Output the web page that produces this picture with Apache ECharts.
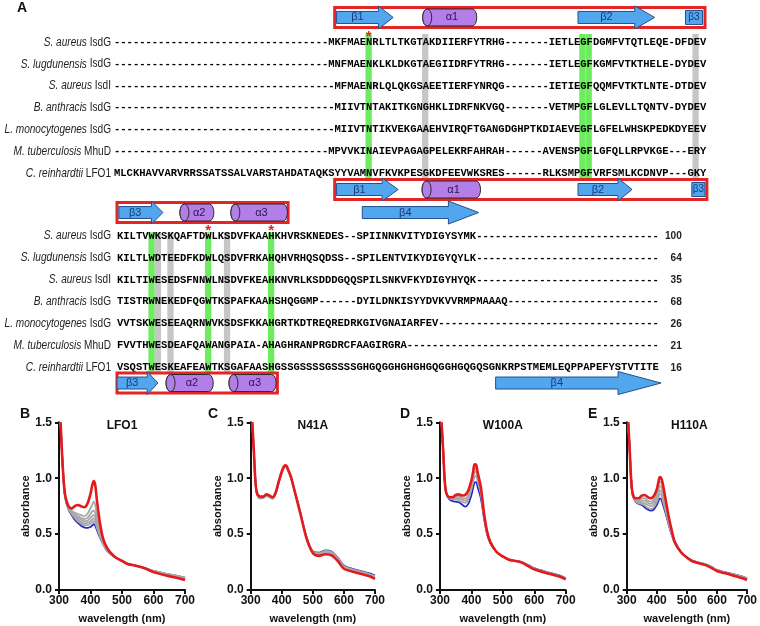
<!DOCTYPE html>
<html>
<head>
<meta charset="utf-8">
<script src="https://cdn.jsdelivr.net/npm/echarts@6/dist/echarts.min.js"></script>
<style>
html, body { margin: 0; padding: 0; background: #fff; }
#container { width: 760px; height: 626px; }
</style>
</head>
<body>
<div id="container"></div>
<script>
// ---- alignment data ----
var speciesNames = ['S. aureus', 'S. lugdunensis', 'S. aureus', 'B. anthracis', 'L. monocytogenes', 'M. tuberculosis', 'C. reinhardtii'];
var proteinNames = ['IsdG', 'IsdG', 'IsdI', 'IsdG', 'IsdG', 'MhuD', 'LFO1'];
var block1Seqs = [
    'MKFMAENRLTLTKGTAKDIIERFYTRHG-------IETLEGFDGMFVTQTLEQE-DFDEV',
    'MNFMAENKLKLDKGTAEGIIDRFYTRHG-------IETLEGFKGMFVTKTHELE-DYDEV',
    'MFMAENRLQLQKGSAEETIERFYNRQG-------IETIEGFQQMFVTKTLNTE-DTDEV',
    'MIIVTNTAKITKGNGHKLIDRFNKVGQ-------VETMPGFLGLEVLLTQNTV-DYDEV',
    'MIIVTNTIKVEKGAAEHVIRQFTGANGDGHPTKDIAEVEGFLGFELWHSKPEDKDYEEV',
    'MPVVKINAIEVPAGAGPELEKRFAHRAH------AVENSPGFLGFQLLRPVKGE---ERY',
    'MLCKHAVVARVRRSSATSSALVARSTAHDATAQKSYYVAMNVFKVKPESGKDFEEVWKSRES------RLKSMPGFVRFSMLKCDNVP---GKY'
];
var block2Seqs = [
    'KILTVWKSKQAFTDWLKSDVFKAAHKHVRSKNEDES--SPIINNKVITYDIGYSYMK',
    'KILTLWDTEEDFKDWLQSDVFRKAHQHVRHQSQDSS--SPILENTVIKYDIGYQYLK',
    'KILTIWESEDSFNNWLNSDVFKEAHKNVRLKSDDDGQQSPILSNKVFKYDIGYHYQK',
    'TISTRWNEKEDFQGWTKSPAFKAAHSHQGGMP------DYILDNKISYYDVKVVRMPMAAAQ',
    'VVTSKWESEEAQRNWVKSDSFKKAHGRTKDTREQREDRKGIVGNAIARFEV',
    'FVVTHWESDEAFQAWANGPAIA-AHAGHRANPRGDRCFAAGIRGRA',
    'VSQSTWESKEAFEAWTKSGAFAASHGSSGSSSSGSSSSGHGQGGHGHGHGQGGHGQGQSGNKRPSTMEMLEQPPAPEFYSTVTITE'
];
var rowTotals = ['100', '64', '35', '68', '26', '21', '16'];

// highlighted alignment columns (1-based)
var block1Green = [41, 75, 76];
var block1Grey = [50, 93];
var block2Green = [6, 15, 25];
var block2Grey = [7, 9, 18];
var block1Stars = [41];
var block2Stars = [15, 25];

// secondary structure: [kind, from column, to column, label]
var ssBlock1Top = [['beta', 35.4, 44.4, 'β1'], ['alpha', 49.1, 57.7, 'α1'], ['beta', 73.8, 86.0, 'β2'], ['box', 90.9, 93.6, 'β3']];
var ssBlock1Bottom = [['beta', 35.4, 45.2, 'β1'], ['alpha', 49.0, 58.3, 'α1'], ['beta', 73.8, 82.4, 'β2'], ['box', 91.9, 94.0, 'β3']];
var ssBlock2Top = [['beta', 0.3, 7.3, 'β3'], ['alpha', 10.0, 15.4, 'α2'], ['alpha', 18.1, 27.1, 'α3'], ['beta', 39.0, 57.5, 'β4']];
var ssBlock2Bottom = [['beta', 0.0, 6.5, 'β3'], ['alpha', 7.8, 15.3, 'α2'], ['alpha', 17.8, 25.3, 'α3'], ['beta', 60.2, 86.5, 'β4']];
var framesBlock1 = [[35.1, 94.0], [35.1, 94.3]];
var framesBlock2 = [[0.0, 27.2], [0.0, 25.5]];

// ---- spectra data ----
var waves = [305, 310, 315, 320, 330, 340, 350, 360, 370, 380, 390, 400, 405, 410, 415, 420, 430, 440, 450, 460, 480, 500, 520, 540, 560, 580, 600, 640, 680, 700];

var lfo1Red   = [1.50, 1.20, 0.97, 0.84, 0.75, 0.73, 0.75, 0.76, 0.75, 0.74, 0.77, 0.86, 0.93, 0.975, 0.94, 0.81, 0.60, 0.46, 0.39, 0.345, 0.29, 0.26, 0.23, 0.22, 0.205, 0.185, 0.16, 0.13, 0.105, 0.09];
var lfo1Blue  = [1.50, 1.20, 0.96, 0.82, 0.72, 0.67, 0.63, 0.60, 0.575, 0.56, 0.555, 0.565, 0.575, 0.59, 0.575, 0.54, 0.47, 0.41, 0.36, 0.33, 0.29, 0.26, 0.235, 0.22, 0.205, 0.19, 0.17, 0.145, 0.125, 0.11];
var lfo1Grey1 = [1.50, 1.20, 0.97, 0.83, 0.74, 0.71, 0.69, 0.68, 0.67, 0.66, 0.68, 0.73, 0.76, 0.79, 0.76, 0.68, 0.55, 0.44, 0.38, 0.34, 0.29, 0.26, 0.23, 0.22, 0.205, 0.185, 0.165, 0.14, 0.115, 0.10];
var lfo1Grey2 = [1.50, 1.20, 0.97, 0.83, 0.735, 0.70, 0.675, 0.66, 0.645, 0.635, 0.645, 0.68, 0.70, 0.71, 0.69, 0.63, 0.52, 0.43, 0.375, 0.335, 0.29, 0.26, 0.232, 0.22, 0.205, 0.187, 0.167, 0.142, 0.118, 0.102];
var lfo1Grey3 = [1.50, 1.20, 0.97, 0.83, 0.73, 0.695, 0.665, 0.645, 0.63, 0.615, 0.62, 0.645, 0.66, 0.67, 0.655, 0.60, 0.50, 0.42, 0.37, 0.333, 0.29, 0.26, 0.233, 0.22, 0.205, 0.188, 0.168, 0.143, 0.12, 0.104];
var lfo1Grey4 = [1.50, 1.20, 0.97, 0.83, 0.73, 0.69, 0.655, 0.63, 0.61, 0.595, 0.60, 0.615, 0.63, 0.64, 0.625, 0.58, 0.49, 0.415, 0.365, 0.33, 0.29, 0.26, 0.234, 0.22, 0.205, 0.189, 0.169, 0.144, 0.122, 0.106];
var lfo1Grey5 = [1.50, 1.20, 0.96, 0.825, 0.725, 0.68, 0.645, 0.615, 0.595, 0.58, 0.58, 0.595, 0.605, 0.615, 0.60, 0.56, 0.48, 0.41, 0.36, 0.33, 0.29, 0.26, 0.235, 0.22, 0.205, 0.19, 0.17, 0.145, 0.124, 0.108];

var n41aRed   = [1.50, 1.25, 0.98, 0.87, 0.835, 0.835, 0.855, 0.845, 0.83, 0.87, 0.97, 1.06, 1.095, 1.115, 1.11, 1.08, 1.01, 0.90, 0.79, 0.68, 0.46, 0.33, 0.305, 0.32, 0.31, 0.26, 0.19, 0.155, 0.125, 0.10];
var n41aBlue  = [1.50, 1.25, 0.98, 0.86, 0.82, 0.825, 0.845, 0.835, 0.82, 0.86, 0.96, 1.05, 1.085, 1.105, 1.10, 1.07, 1.00, 0.90, 0.80, 0.69, 0.47, 0.345, 0.335, 0.355, 0.345, 0.29, 0.22, 0.18, 0.15, 0.13];
var n41aGrey1 = [1.50, 1.25, 0.98, 0.86, 0.82, 0.82, 0.84, 0.83, 0.815, 0.86, 0.96, 1.05, 1.085, 1.105, 1.10, 1.07, 1.00, 0.90, 0.80, 0.69, 0.47, 0.34, 0.33, 0.35, 0.34, 0.285, 0.215, 0.175, 0.145, 0.125];
var n41aGrey2 = [1.50, 1.25, 0.98, 0.865, 0.825, 0.83, 0.85, 0.84, 0.825, 0.865, 0.965, 1.055, 1.09, 1.11, 1.105, 1.075, 1.005, 0.90, 0.795, 0.685, 0.465, 0.338, 0.32, 0.34, 0.33, 0.275, 0.205, 0.168, 0.138, 0.118];

var w100aRed   = [1.50, 1.25, 0.98, 0.87, 0.83, 0.83, 0.85, 0.855, 0.845, 0.85, 0.89, 0.98, 1.05, 1.125, 1.12, 1.05, 0.92, 0.69, 0.52, 0.43, 0.34, 0.30, 0.27, 0.26, 0.245, 0.215, 0.185, 0.15, 0.12, 0.095];
var w100aBlue  = [1.50, 1.25, 0.98, 0.86, 0.81, 0.795, 0.79, 0.785, 0.765, 0.745, 0.77, 0.85, 0.91, 0.96, 0.965, 0.92, 0.82, 0.64, 0.50, 0.42, 0.34, 0.30, 0.27, 0.26, 0.25, 0.225, 0.195, 0.16, 0.13, 0.105];
var w100aGrey1 = [1.50, 1.25, 0.98, 0.865, 0.82, 0.81, 0.81, 0.805, 0.79, 0.78, 0.81, 0.90, 0.96, 1.01, 1.02, 0.97, 0.86, 0.66, 0.51, 0.425, 0.34, 0.30, 0.27, 0.26, 0.25, 0.223, 0.193, 0.158, 0.128, 0.102];
var w100aGrey2 = [1.50, 1.25, 0.98, 0.865, 0.825, 0.82, 0.825, 0.82, 0.81, 0.80, 0.83, 0.92, 0.99, 1.05, 1.06, 1.00, 0.88, 0.67, 0.515, 0.43, 0.34, 0.30, 0.27, 0.26, 0.248, 0.22, 0.19, 0.155, 0.125, 0.10];
var w100aGrey3 = [1.50, 1.25, 0.98, 0.87, 0.83, 0.825, 0.835, 0.835, 0.825, 0.82, 0.85, 0.95, 1.02, 1.08, 1.09, 1.02, 0.90, 0.68, 0.52, 0.43, 0.34, 0.30, 0.27, 0.26, 0.246, 0.218, 0.188, 0.152, 0.122, 0.098];

var h110aRed   = [1.50, 1.25, 0.98, 0.86, 0.82, 0.82, 0.845, 0.85, 0.83, 0.82, 0.84, 0.90, 0.96, 1.01, 1.00, 0.95, 0.80, 0.65, 0.53, 0.43, 0.34, 0.29, 0.255, 0.24, 0.225, 0.20, 0.17, 0.14, 0.11, 0.09];
var h110aBlue  = [1.50, 1.25, 0.98, 0.85, 0.79, 0.77, 0.76, 0.74, 0.72, 0.71, 0.72, 0.76, 0.79, 0.82, 0.81, 0.77, 0.68, 0.58, 0.49, 0.42, 0.34, 0.29, 0.26, 0.245, 0.232, 0.21, 0.18, 0.15, 0.125, 0.105];
var h110aGrey1 = [1.50, 1.25, 0.98, 0.855, 0.81, 0.80, 0.82, 0.82, 0.80, 0.79, 0.81, 0.87, 0.92, 0.97, 0.96, 0.90, 0.75, 0.63, 0.515, 0.43, 0.34, 0.29, 0.256, 0.241, 0.227, 0.203, 0.173, 0.143, 0.115, 0.095];
var h110aGrey2 = [1.50, 1.25, 0.98, 0.855, 0.805, 0.79, 0.80, 0.80, 0.78, 0.77, 0.79, 0.84, 0.89, 0.93, 0.92, 0.87, 0.73, 0.62, 0.51, 0.43, 0.34, 0.29, 0.257, 0.242, 0.228, 0.205, 0.175, 0.145, 0.118, 0.098];
var h110aGrey3 = [1.50, 1.25, 0.98, 0.85, 0.80, 0.785, 0.785, 0.775, 0.76, 0.75, 0.765, 0.815, 0.855, 0.89, 0.88, 0.84, 0.71, 0.60, 0.50, 0.425, 0.34, 0.29, 0.258, 0.243, 0.23, 0.207, 0.177, 0.147, 0.12, 0.10];
var h110aGrey4 = [1.50, 1.25, 0.98, 0.85, 0.795, 0.775, 0.77, 0.755, 0.735, 0.725, 0.74, 0.785, 0.825, 0.86, 0.85, 0.80, 0.70, 0.59, 0.495, 0.42, 0.34, 0.29, 0.259, 0.244, 0.231, 0.208, 0.178, 0.148, 0.122, 0.102];

var panelTitles = ['LFO1', 'N41A', 'W100A', 'H110A'];
var panelLetters = ['B', 'C', 'D', 'E'];

// ---- styling ----
var RED = '#e41a1c', GREY = '#a8a8a8', BLUE = '#2626c4';
var SEQ_FONT = 'bold 10.5px "Liberation Mono"';
var SANS = 'Liberation Sans';
var ARROW_FILL = '#52a6ee', ARROW_STROKE = '#24508e';
var HELIX_FILL = '#b47ee8', HELIX_STROKE = '#2a2a2a';
var FRAME_RED = '#e52525';
var BAND_GREEN = '#6cec5e', BAND_GREY = '#c6c6c6';

var blocks = [
    { seqs: block1Seqs.map(function (s) { return s.padStart(94, '-'); }), labelGap: 3, showTotals: false,
      green: block1Green, grey: block1Grey, stars: block1Stars, starRow: -0.43,
      bandTop: -0.38, bandBottom: 6.3, laneTop: -1.14, laneBottom: 6.74,
      ssTop: ssBlock1Top, ssBottom: ssBlock1Bottom, frames: framesBlock1 },
    { seqs: block2Seqs.map(function (s) { return s.padEnd(86, '-'); }), labelGap: 6, showTotals: true,
      green: block2Green, grey: block2Grey, stars: block2Stars, starRow: -0.41,
      bandTop: -0.17, bandBottom: 6.26, laneTop: -1.07, laneBottom: 6.7,
      ssTop: ssBlock2Top, ssBottom: ssBlock2Bottom, frames: framesBlock2 }
];

var dom = document.getElementById('container');
var myChart = echarts.init(dom, null, { renderer: 'canvas' });

function rowRenderer(block) {
    return function (params, api) {
        var i = params.dataIndex;
        var p = api.coord([0, i]);
        var children = [{
            type: 'text', x: p[0], y: p[1],
            style: { text: block.seqs[i], font: SEQ_FONT, fill: '#000', align: 'left', verticalAlign: 'middle' }
        }, {
            type: 'text', x: p[0] - block.labelGap, y: p[1], scaleX: 0.84,
            style: {
                text: '{i|' + speciesNames[i] + '} ' + proteinNames[i],
                fontSize: 12, fontFamily: SANS, fill: '#222', align: 'right', verticalAlign: 'middle',
                rich: { i: { fontStyle: 'italic', fontSize: 12, fontFamily: SANS, fill: '#222' } }
            }
        }];
        if (block.showTotals) {
            var q = api.coord([89.8, i]);
            children.push({
                type: 'text', x: q[0], y: q[1], scaleX: 0.88,
                style: { text: rowTotals[i], fontSize: 11.5, fontWeight: 'bold', fontFamily: SANS, fill: '#222', align: 'right', verticalAlign: 'middle' }
            });
        }
        return { type: 'group', children: children };
    };
}

function bandRenderer(block, color) {
    return function (params, api) {
        var col = api.value(0);
        var p0 = api.coord([col - 1, block.bandTop]);
        var p1 = api.coord([col, block.bandBottom]);
        return { type: 'rect', shape: { x: p0[0], y: p0[1], width: p1[0] - p0[0], height: p1[1] - p0[1] }, style: { fill: color } };
    };
}

function starRenderer(block) {
    return function (params, api) {
        var col = api.value(0);
        var p = api.coord([col - 0.5, block.starRow]);
        return { type: 'text', x: p[0], y: p[1] + 4, style: { text: '*', fontSize: 15, fontWeight: 'bold', fontFamily: SANS, fill: FRAME_RED, align: 'center', verticalAlign: 'middle' } };
    };
}

function ssItems(block) {
    var items = [];
    block.frames.forEach(function (f, k) {
        items.push({ kind: 'frame', from: f[0], to: f[1], lane: k === 0 ? block.laneTop : block.laneBottom });
    });
    block.ssTop.forEach(function (s) { items.push({ kind: s[0], from: s[1], to: s[2], label: s[3], lane: block.laneTop }); });
    block.ssBottom.forEach(function (s) { items.push({ kind: s[0], from: s[1], to: s[2], label: s[3], lane: block.laneBottom }); });
    return items;
}

function ssRenderer(items) {
    return function (params, api) {
        var it = items[params.dataIndex];
        var a = api.coord([it.from, it.lane]);
        var b = api.coord([it.to, it.lane]);
        var x0 = a[0], x1 = b[0], cy = a[1];
        if (it.kind === 'frame') {
            return { type: 'rect', shape: { x: x0, y: cy - 10, width: x1 - x0, height: 20 },
                style: { fill: '#fff', stroke: FRAME_RED, lineWidth: 3 } };
        }
        if (it.kind === 'beta') {
            var hl = (x1 - x0) * 0.26, bh = 6, hh = 11.5;
            return { type: 'group', children: [{
                type: 'polygon',
                shape: { points: [[x0, cy - bh], [x1 - hl, cy - bh], [x1 - hl, cy - hh], [x1, cy], [x1 - hl, cy + hh], [x1 - hl, cy + bh], [x0, cy + bh]] },
                style: { fill: ARROW_FILL, stroke: ARROW_STROKE, lineWidth: 1 }
            }, {
                type: 'text', x: (x0 + x1 - hl) / 2, y: cy,
                style: { text: it.label, fontSize: 11, fontFamily: SANS, fill: '#1b3a78', align: 'center', verticalAlign: 'middle' }
            }] };
        }
        if (it.kind === 'box') {
            return { type: 'group', children: [{
                type: 'rect', shape: { x: x0, y: cy - 7, width: x1 - x0, height: 14 },
                style: { fill: ARROW_FILL, stroke: ARROW_STROKE, lineWidth: 1 }
            }, {
                type: 'text', x: (x0 + x1) / 2, y: cy,
                style: { text: it.label, fontSize: 10, fontFamily: SANS, fill: '#1b3a78', align: 'center', verticalAlign: 'middle' }
            }] };
        }
        // helix cylinder
        var h = 8.5, rx = 4.5;
        var body = 'M' + (x0 + rx) + ' ' + (cy - h) + ' L' + (x1 - rx) + ' ' + (cy - h) +
            ' A' + rx + ' ' + h + ' 0 0 1 ' + (x1 - rx) + ' ' + (cy + h) +
            ' L' + (x0 + rx) + ' ' + (cy + h) +
            ' A' + rx + ' ' + h + ' 0 0 1 ' + (x0 + rx) + ' ' + (cy - h) + ' Z';
        var cap = 'M' + x0 + ' ' + cy + ' A' + rx + ' ' + h + ' 0 1 0 ' + (x0 + 2 * rx) + ' ' + cy +
            ' A' + rx + ' ' + h + ' 0 1 0 ' + x0 + ' ' + cy + ' Z';
        return { type: 'group', children: [{
            type: 'path', shape: { pathData: body }, style: { fill: HELIX_FILL, stroke: HELIX_STROKE, lineWidth: 1 }
        }, {
            type: 'path', shape: { pathData: cap }, style: { fill: HELIX_FILL, stroke: HELIX_STROKE, lineWidth: 1 }
        }, {
            type: 'text', x: (x0 + x1) / 2 + rx / 2, y: cy,
            style: { text: it.label, fontSize: 11, fontFamily: SANS, fill: '#2a1450', align: 'center', verticalAlign: 'middle' }
        }] };
    };
}

var grids = [
    { left: 114, top: 9.6, width: 591, height: 196.5 },
    { left: 117, top: 203.1, width: 540.9, height: 197.5 },
    { left: 59, top: 422.3, width: 126, height: 167.7 },
    { left: 250.7, top: 422.3, width: 124.3, height: 167.7 },
    { left: 440, top: 422.3, width: 125.7, height: 167.7 },
    { left: 626.7, top: 422.3, width: 125.3, height: 167.7 }
];

var xAxes = [
    { gridIndex: 0, type: 'value', min: 0, max: 94, show: false },
    { gridIndex: 1, type: 'value', min: 0, max: 86, show: false }
];
var yAxes = [
    { gridIndex: 0, type: 'value', min: -1.5, max: 7.5, inverse: true, show: false },
    { gridIndex: 1, type: 'value', min: -1.5, max: 7.5, inverse: true, show: false }
];

var axisText = { color: '#111', fontWeight: 'bold', fontSize: 12, fontFamily: SANS };
for (var g = 2; g < 6; g++) {
    xAxes.push({
        gridIndex: g, type: 'value', min: 300, max: 700, interval: 100,
        name: 'wavelength (nm)', nameLocation: 'middle', nameGap: 23,
        nameTextStyle: { color: '#111', fontWeight: 'bold', fontSize: 11, fontFamily: SANS },
        axisLine: { show: true, lineStyle: { color: '#111', width: 2 } },
        axisTick: { show: true, length: 4, lineStyle: { color: '#111', width: 2 } },
        axisLabel: Object.assign({ margin: 5 }, axisText),
        splitLine: { show: false }
    });
    yAxes.push({
        gridIndex: g, type: 'value', min: 0, max: 1.5, interval: 0.5,
        name: 'absorbance', nameLocation: 'middle', nameGap: 24,
        nameTextStyle: { color: '#111', fontWeight: 'bold', fontSize: 11, fontFamily: SANS },
        axisLine: { show: true, lineStyle: { color: '#111', width: 2 } },
        axisTick: { show: true, length: 4, lineStyle: { color: '#111', width: 2 } },
        axisLabel: Object.assign({ margin: 7, formatter: function (v) { return v.toFixed(1); } }, axisText),
        splitLine: { show: false }
    });
}

var series = [];
blocks.forEach(function (block, b) {
    series.push({ type: 'custom', xAxisIndex: b, yAxisIndex: b, z: 1, silent: true,
        data: block.green.map(function (c) { return [c, 0]; }), renderItem: bandRenderer(block, BAND_GREEN) });
    series.push({ type: 'custom', xAxisIndex: b, yAxisIndex: b, z: 1, silent: true,
        data: block.grey.map(function (c) { return [c, 0]; }), renderItem: bandRenderer(block, BAND_GREY) });
    series.push({ type: 'custom', xAxisIndex: b, yAxisIndex: b, z: 2, silent: true,
        data: block.seqs.map(function (s, i) { return [0, i]; }), renderItem: rowRenderer(block) });
    var items = ssItems(block);
    series.push({ type: 'custom', xAxisIndex: b, yAxisIndex: b, z: 3, silent: true,
        data: items.map(function (it) { return [it.from, it.lane]; }), renderItem: ssRenderer(items) });
    series.push({ type: 'custom', xAxisIndex: b, yAxisIndex: b, z: 4, silent: true,
        data: block.stars.map(function (c) { return [c, 0]; }), renderItem: starRenderer(block) });
});

function spectrum(idx, red, blue, greys) {
    function line(vals, color, width) {
        return {
            type: 'line', xAxisIndex: idx, yAxisIndex: idx, showSymbol: false, smooth: 0.3, silent: true,
            lineStyle: { color: color, width: width },
            data: waves.map(function (w, i) { return [w, vals[i]]; })
        };
    }
    series.push(line(blue, BLUE, 1.8));
    greys.forEach(function (gv) { series.push(line(gv, GREY, 1.8)); });
    series.push(line(red, RED, 2.6));
}
spectrum(2, lfo1Red, lfo1Blue, [lfo1Grey5, lfo1Grey4, lfo1Grey3, lfo1Grey2, lfo1Grey1]);
spectrum(3, n41aRed, n41aBlue, [n41aGrey1, n41aGrey2]);
spectrum(4, w100aRed, w100aBlue, [w100aGrey1, w100aGrey2, w100aGrey3]);
spectrum(5, h110aRed, h110aBlue, [h110aGrey4, h110aGrey3, h110aGrey2, h110aGrey1]);

var titles = [{ text: 'A', left: 17, top: 1, padding: 0, textStyle: { fontSize: 14, fontWeight: 'bold', color: '#111', fontFamily: SANS } }];
var letterLeft = [20, 208, 400, 588];
panelLetters.forEach(function (l, k) {
    titles.push({ text: l, left: letterLeft[k], top: 407, padding: 0, textStyle: { fontSize: 14, fontWeight: 'bold', color: '#111', fontFamily: SANS } });
    var gr = grids[k + 2];
    titles.push({ text: panelTitles[k], left: gr.left + gr.width / 2, top: 420, padding: 0, textAlign: 'center',
        textStyle: { fontSize: 12, fontWeight: 'bold', color: '#111', fontFamily: SANS } });
});

var option = {
    animation: false,
    backgroundColor: '#fff',
    title: titles,
    grid: grids,
    xAxis: xAxes,
    yAxis: yAxes,
    series: series
};
myChart.setOption(option);
</script>
</body>
</html>
